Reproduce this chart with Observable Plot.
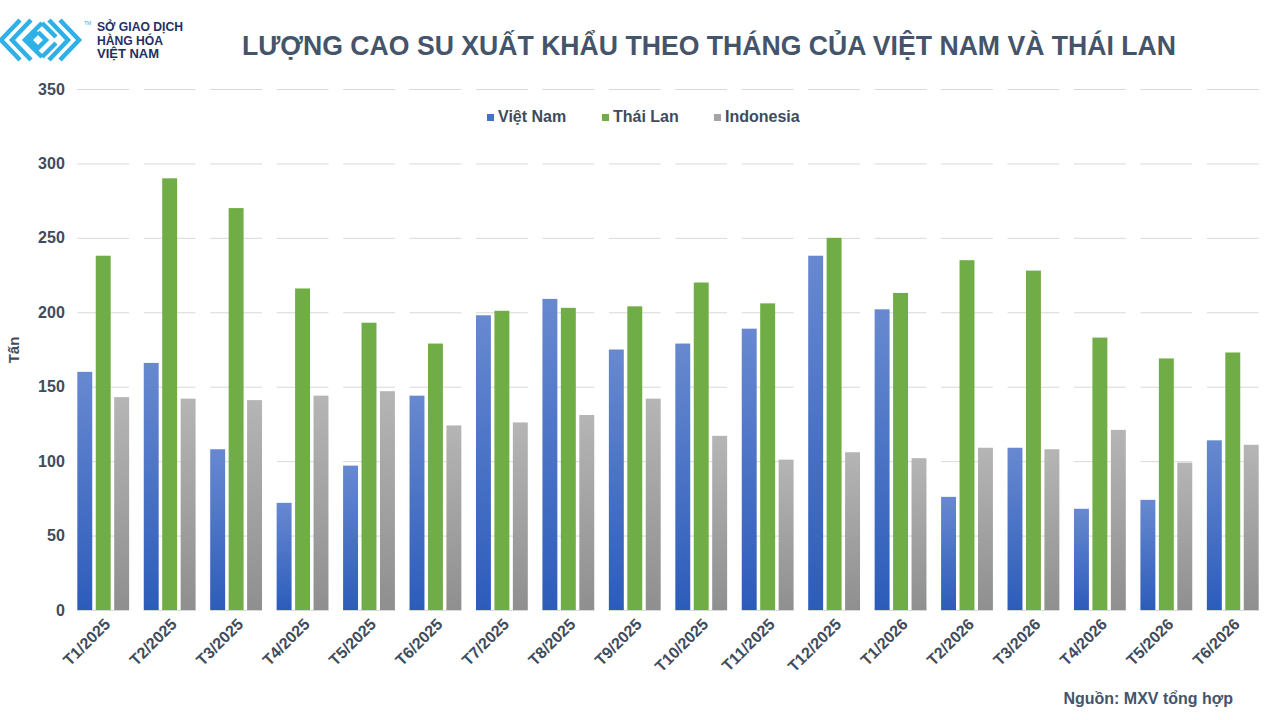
<!DOCTYPE html>
<html>
<head>
<meta charset="utf-8">
<script src="https://cdn.jsdelivr.net/npm/d3@7"></script>
<script src="https://cdn.jsdelivr.net/npm/@observablehq/plot@0.6"></script>
<style>
  html, body { margin: 0; padding: 0; background: #fff; }
  body { width: 1280px; height: 720px; position: relative; overflow: hidden; font-family: "Liberation Sans", Arial, sans-serif; }
  #header { position: absolute; left: 0; top: 0; }
  #chart { position: absolute; left: 0; top: 80px; }
  .legend { position: absolute; top: 108px; font-size: 16px; font-weight: bold; color: #404b5c; white-space: nowrap; }
  .legend span.sw { display: inline-block; width: 7px; height: 7px; margin-right: 4px; vertical-align: 1px; }
  #source { position: absolute; right: 47px; top: 690px; font-size: 16px; font-weight: bold; color: #44546a; }
</style>
</head>
<body>
<svg id="header" width="1280" height="80" xmlns="http://www.w3.org/2000/svg">
  <g fill="none" stroke="#2fb0e6" stroke-width="4.5" stroke-linejoin="miter">
    <polyline points="20,20 1,40 20,60"/>
    <polyline points="31,20 12,40 31,60"/>
    <polyline points="42,23 25,40 42,57"/>
    <polyline points="38,32 46,40 38,48 30,40 38,32"/>
    <polyline points="49,20 68,40 49,60"/>
    <polyline points="60,20 79,40 60,60"/>
    <polyline points="42,23 56,37"/>
    <polyline points="42,57 56,43"/>
  </g>
  <text x="84" y="25" font-size="5" fill="#2fb0e6" font-family="Liberation Sans">TM</text>
  <g font-family="Liberation Sans Narrow, Liberation Sans, Arial" font-weight="bold" font-size="12.5" fill="#1f2f63">
    <text x="97" y="31" textLength="86" lengthAdjust="spacingAndGlyphs">SỞ GIAO DỊCH</text>
    <text x="97" y="45" textLength="66" lengthAdjust="spacingAndGlyphs">HÀNG HÓA</text>
    <text x="97" y="58" textLength="62" lengthAdjust="spacingAndGlyphs">VIỆT NAM</text>
  </g>
  <text x="242" y="55" font-family="Liberation Sans, Arial" font-weight="bold" font-size="27" fill="#44546a" textLength="934" lengthAdjust="spacingAndGlyphs">LƯỢNG CAO SU XUẤT KHẨU THEO THÁNG CỦA VIỆT NAM VÀ THÁI LAN</text>
</svg>
<div id="chart"></div>
<div class="legend" style="left:487px"><span class="sw" style="background:#4472c4"></span>Việt Nam</div>
<div class="legend" style="left:602px"><span class="sw" style="background:#70ad47"></span>Thái Lan</div>
<div class="legend" style="left:714px"><span class="sw" style="background:#a5a5a5"></span>Indonesia</div>
<div id="source">Nguồn: MXV tổng hợp</div>
<script>
const months = ["T1/2025","T2/2025","T3/2025","T4/2025","T5/2025","T6/2025","T7/2025","T8/2025","T9/2025","T10/2025","T11/2025","T12/2025","T1/2026","T2/2026","T3/2026","T4/2026","T5/2026","T6/2026"];
const series = ["Việt Nam", "Thái Lan", "Indonesia"];
const vietnam   = [160,166,108,72,97,144,198,209,175,179,189,238,202,76,109,68,74,114];
const thailand  = [238,290,270,216,193,179,201,203,204,220,206,250,213,235,228,183,169,173];
const indonesia = [143,142,141,144,147,124,126,131,142,117,101,106,102,109,108,121,99,111];
const yTicks = [0,50,100,150,200,250,300,350];

const values = [vietnam, thailand, indonesia];
const data = [];
months.forEach((m, i) => series.forEach((s, j) => data.push({month: m, series: s, value: values[j][i]})));

const NS = "http://www.w3.org/2000/svg";
function gradient(id, top, bottom) {
  const g = document.createElementNS(NS, "linearGradient");
  g.setAttribute("id", id);
  g.setAttribute("x1", "0"); g.setAttribute("y1", "0");
  g.setAttribute("x2", "0"); g.setAttribute("y2", "1");
  [[0, top], [1, bottom]].forEach(([o, c]) => {
    const st = document.createElementNS(NS, "stop");
    st.setAttribute("offset", o);
    st.setAttribute("stop-color", c);
    g.appendChild(st);
  });
  return g;
}
const defsMark = () => {
  const defs = document.createElementNS(NS, "defs");
  defs.appendChild(gradient("gVN", "#6889d0", "#2c5cba"));
  defs.appendChild(gradient("gID", "#b5b5b5", "#8f8f8f"));
  return defs;
};

const textColor = "#404b5c";
const chart = Plot.plot({
  width: 1280,
  height: 640,
  marginTop: 9,
  marginBottom: 110,
  marginLeft: 70,
  marginRight: 14,
  style: {fontFamily: "Liberation Sans, Arial, sans-serif", background: "#fff"},
  fx: {domain: months, paddingInner: 0.22, paddingOuter: 0.11, round: false, label: null},
  x: {domain: series, paddingInner: 0.19, paddingOuter: 0, round: false, axis: null},
  y: {domain: [0, 350], label: null},
  color: {domain: series, range: ["url(#gVN)", "#70ad47", "url(#gID)"]},
  marks: [
    defsMark,
    Plot.gridY(yTicks, {stroke: "#d9d9d9", strokeOpacity: 1, strokeWidth: 1}),
    Plot.barY(data, {fx: "month", x: "series", y: "value", fill: "series"}),
    Plot.ruleY([0], {stroke: "#d9d9d9", strokeWidth: 1}),
    Plot.axisY(yTicks, {tickSize: 0, tickPadding: 13, fontSize: 16, fontWeight: "bold", fill: textColor,
      label: "Tấn", labelAnchor: "center", labelArrow: "none", labelOffset: 69}),
    Plot.axisFx({anchor: "bottom", tickSize: 0, tickPadding: 11, tickRotate: -45, fontSize: 16, fontWeight: "bold", fill: textColor, label: null, dx: 4})
  ]
});
document.getElementById("chart").appendChild(chart);
chart.querySelectorAll("g[aria-label='y-axis label'] text").forEach(t => {
  t.setAttribute("font-size", "15");
  t.setAttribute("font-weight", "bold");
  t.setAttribute("fill", textColor);
});
</script>
</body>
</html>
